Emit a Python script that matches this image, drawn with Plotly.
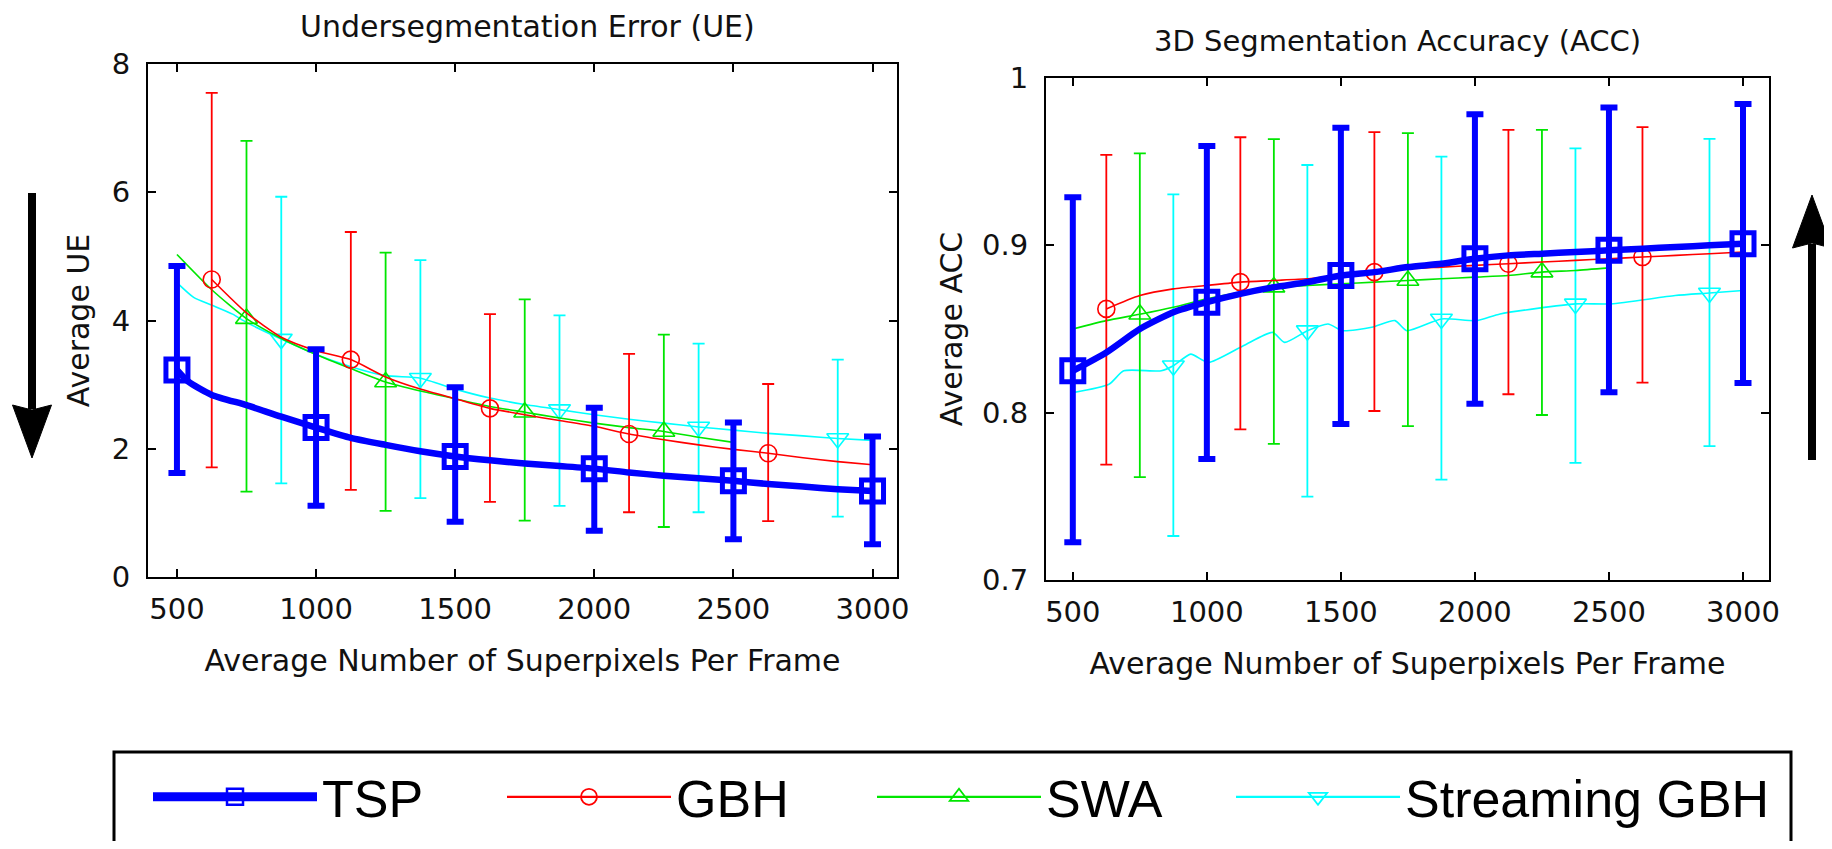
import plotly.graph_objects as go

# ---------------- data ----------------
X_TICKS = [500, 1000, 1500, 2000, 2500, 3000]
UE_TICKS = [0, 2, 4, 6, 8]
ACC_TICKS = [0.7, 0.8, 0.9, 1.0]
ACC_TICK_TEXT = ["0.7", "0.8", "0.9", "1"]

METHODS = ["TSP", "GBH", "SWA", "Streaming GBH"]

# --- Undersegmentation error: curves
ue_tsp_x = [500, 540, 625, 750, 875, 1000, 1125, 1250, 1375, 1500, 1625, 1750, 1875, 2000, 2125, 2250, 2375, 2500, 2625, 2750, 2875, 3000]
ue_tsp_y = [3.23, 3.05, 2.84, 2.68, 2.50, 2.33, 2.17, 2.06, 1.96, 1.88, 1.82, 1.77, 1.73, 1.69, 1.63, 1.58, 1.54, 1.50, 1.45, 1.41, 1.37, 1.34]
ue_gbh_x = [625, 750, 875, 1000, 1125, 1250, 1375, 1500, 1625, 1750, 1875, 2000, 2125, 2250, 2375, 2500, 2625, 2750, 2875, 3000]
ue_gbh_y = [4.64, 4.12, 3.74, 3.53, 3.39, 3.12, 2.93, 2.78, 2.63, 2.53, 2.44, 2.35, 2.23, 2.14, 2.06, 1.99, 1.93, 1.86, 1.80, 1.75]
ue_swa_x = [500, 625, 750, 875, 1000, 1125, 1250, 1375, 1500, 1625, 1750, 1875, 2000, 2125, 2250, 2375, 2500]
ue_swa_y = [5.03, 4.48, 4.03, 3.72, 3.47, 3.25, 3.04, 2.90, 2.78, 2.66, 2.57, 2.48, 2.40, 2.33, 2.27, 2.18, 2.10]
ue_sgbh_x = [500, 560, 625, 700, 750, 875, 1000, 1125, 1250, 1375, 1500, 1625, 1750, 1875, 2000, 2125, 2250, 2375, 2500, 2625, 2750, 2875, 3000]
ue_sgbh_y = [4.59, 4.36, 4.24, 4.10, 3.97, 3.71, 3.47, 3.28, 3.14, 3.10, 2.93, 2.79, 2.69, 2.61, 2.53, 2.46, 2.40, 2.34, 2.29, 2.24, 2.20, 2.16, 2.13]

# --- Undersegmentation error: markers with error bars (mean, upper, lower)
ue_tsp_mx = [500, 1000, 1500, 2000, 2500, 3000]
ue_tsp_my = [3.23, 2.33, 1.88, 1.69, 1.50, 1.34]
ue_tsp_hi = [4.85, 3.55, 2.96, 2.64, 2.41, 2.19]
ue_tsp_lo = [1.62, 1.11, 0.86, 0.72, 0.59, 0.51]
ue_gbh_mx = [625, 1125, 1625, 2125, 2625]
ue_gbh_my = [4.64, 3.39, 2.63, 2.23, 1.93]
ue_gbh_hi = [7.55, 5.38, 4.10, 3.48, 3.01]
ue_gbh_lo = [1.71, 1.36, 1.17, 1.01, 0.87]
ue_swa_mx = [750, 1250, 1750, 2250]
ue_swa_my = [4.03, 3.04, 2.57, 2.27]
ue_swa_hi = [6.80, 5.06, 4.33, 3.78]
ue_swa_lo = [1.33, 1.03, 0.88, 0.78]
ue_sgbh_mx = [875, 1375, 1875, 2375, 2875]
ue_sgbh_my = [3.71, 3.10, 2.61, 2.34, 2.16]
ue_sgbh_hi = [5.93, 4.94, 4.08, 3.64, 3.39]
ue_sgbh_lo = [1.46, 1.23, 1.11, 1.01, 0.94]

# --- 3D segmentation accuracy: curves
acc_tsp_x = [500, 625, 750, 875, 1000, 1125, 1250, 1375, 1500, 1625, 1750, 1875, 2000, 2125, 2250, 2375, 2500, 2625, 2750, 2875, 3000]
acc_tsp_y = [0.825, 0.836, 0.850, 0.860, 0.866, 0.871, 0.875, 0.878, 0.882, 0.884, 0.887, 0.889, 0.892, 0.894, 0.895, 0.896, 0.897, 0.898, 0.899, 0.900, 0.901]
acc_gbh_x = [625, 750, 875, 1000, 1125, 1250, 1375, 1500, 1625, 1750, 1875, 2000, 2125, 2250, 2375, 2500, 2625, 2750, 2875, 3000]
acc_gbh_y = [0.862, 0.870, 0.874, 0.876, 0.878, 0.879, 0.880, 0.882, 0.884, 0.886, 0.887, 0.888, 0.889, 0.890, 0.891, 0.892, 0.893, 0.894, 0.895, 0.896]
acc_swa_x = [500, 625, 750, 875, 1000, 1125, 1250, 1375, 1500, 1625, 1750, 1875, 2000, 2125, 2250, 2375, 2500]
acc_swa_y = [0.850, 0.855, 0.8588, 0.863, 0.868, 0.872, 0.875, 0.876, 0.877, 0.878, 0.879, 0.880, 0.881, 0.882, 0.884, 0.885, 0.8865]
acc_sgbh_x = [500, 635, 690, 830, 875, 940, 1005, 1136, 1245, 1290, 1375, 1452, 1506, 1615, 1702, 1746, 1875, 2007, 2094, 2375, 2508, 2747, 2875, 3000]
acc_sgbh_y = [0.812, 0.817, 0.825, 0.825, 0.828, 0.835, 0.830, 0.840, 0.848, 0.842, 0.849, 0.853, 0.849, 0.851, 0.855, 0.849, 0.856, 0.855, 0.859, 0.865, 0.865, 0.870, 0.8715, 0.873]

# --- 3D segmentation accuracy: markers with error bars
acc_tsp_mx = [500, 1000, 1500, 2000, 2500, 3000]
acc_tsp_my = [0.825, 0.866, 0.882, 0.892, 0.897, 0.901]
acc_tsp_hi = [0.9287, 0.9594, 0.9703, 0.9783, 0.9824, 0.9845]
acc_tsp_lo = [0.7225, 0.7723, 0.7932, 0.8053, 0.8122, 0.8177]
acc_gbh_mx = [625, 1125, 1625, 2125, 2625]
acc_gbh_my = [0.862, 0.878, 0.884, 0.889, 0.893]
acc_gbh_hi = [0.954, 0.9646, 0.9676, 0.969, 0.9706]
acc_gbh_lo = [0.769, 0.790, 0.801, 0.811, 0.818]
acc_swa_mx = [750, 1250, 1750, 2250]
acc_swa_my = [0.8588, 0.875, 0.879, 0.884]
acc_swa_hi = [0.9550, 0.9635, 0.967, 0.969]
acc_swa_lo = [0.7615, 0.7813, 0.792, 0.7986]
acc_sgbh_mx = [875, 1375, 1875, 2375, 2875]
acc_sgbh_my = [0.828, 0.849, 0.856, 0.865, 0.8715]
acc_sgbh_hi = [0.9305, 0.948, 0.953, 0.958, 0.9636]
acc_sgbh_lo = [0.7263, 0.7498, 0.760, 0.770, 0.780]

# ---------------- styling ----------------
PAGE_W, PAGE_H = 1832, 849
BODY = 8                      # default page margin around the plot div
W, H = PAGE_W - 2 * BODY, PAGE_H - 2 * BODY
FONT = "DejaVu Sans"
LEG_FONT = "Liberation Sans"
TXT = "#111111"

STYLE = {
    "TSP":           dict(color="rgb(0,0,255)",   lw=6.5, symbol="square-open",        size=22, mlw=5,   ethick=6, ewidth=8.5),
    "GBH":           dict(color="rgb(255,0,0)",   lw=1.6, symbol="circle-open",        size=17, mlw=1.6, ethick=1.8, ewidth=6),
    "SWA":           dict(color="rgb(0,230,0)",   lw=1.6, symbol="triangle-up-open",   size=19, mlw=1.6, ethick=1.8, ewidth=6),
    "Streaming GBH": dict(color="rgb(0,255,255)", lw=1.6, symbol="triangle-down-open", size=19, mlw=1.6, ethick=1.8, ewidth=6),
}
# one legend box per entry, placed at the reference's page positions
LEGEND_X = {"TSP": 148, "GBH": 502, "SWA": 872, "Streaming GBH": 1231}
LEGEND_ID = {"TSP": "legend", "GBH": "legend2", "SWA": "legend3", "Streaming GBH": "legend4"}


def px_x(p):
    """page pixel -> paper fraction"""
    return (p - BODY) / W


def px_y(p):
    return 1 - (p - BODY) / H


# plot boxes in page pixels (left, right, top, bottom)
L_BOX = (148, 897, 64, 577)
R_BOX = (1046, 1769, 78, 580)

fig = go.Figure()

# legend-only entries
for name in METHODS:
    s = STYLE[name]
    fig.add_trace(go.Scatter(
        x=[None], y=[None], name=name, mode="lines+markers",
        line=dict(color=s["color"], width=9 if name == "TSP" else 2.2),
        marker=dict(symbol=s["symbol"], size=s["size"] + 5, color=s["color"],
                    line=dict(color=s["color"], width=2.5 if name == "TSP" else 1.8)),
        xaxis="x", yaxis="y", showlegend=True, legend=LEGEND_ID[name], hoverinfo="skip"))

panels = {
    ("x", "y"): {
        "TSP": (ue_tsp_x, ue_tsp_y, ue_tsp_mx, ue_tsp_my, ue_tsp_hi, ue_tsp_lo),
        "GBH": (ue_gbh_x, ue_gbh_y, ue_gbh_mx, ue_gbh_my, ue_gbh_hi, ue_gbh_lo),
        "SWA": (ue_swa_x, ue_swa_y, ue_swa_mx, ue_swa_my, ue_swa_hi, ue_swa_lo),
        "Streaming GBH": (ue_sgbh_x, ue_sgbh_y, ue_sgbh_mx, ue_sgbh_my, ue_sgbh_hi, ue_sgbh_lo),
    },
    ("x2", "y2"): {
        "TSP": (acc_tsp_x, acc_tsp_y, acc_tsp_mx, acc_tsp_my, acc_tsp_hi, acc_tsp_lo),
        "GBH": (acc_gbh_x, acc_gbh_y, acc_gbh_mx, acc_gbh_my, acc_gbh_hi, acc_gbh_lo),
        "SWA": (acc_swa_x, acc_swa_y, acc_swa_mx, acc_swa_my, acc_swa_hi, acc_swa_lo),
        "Streaming GBH": (acc_sgbh_x, acc_sgbh_y, acc_sgbh_mx, acc_sgbh_my, acc_sgbh_hi, acc_sgbh_lo),
    },
}

draw_order = ["Streaming GBH", "SWA", "GBH", "TSP"]
for (xa, ya), series in panels.items():
    for name in draw_order:
        lx, ly, mx, my, hi, lo = series[name]
        s = STYLE[name]
        fig.add_trace(go.Scatter(
            x=mx, y=my, mode="markers", name=name, showlegend=False,
            marker=dict(symbol=s["symbol"], size=s["size"], color=s["color"],
                        line=dict(color=s["color"], width=s["mlw"])),
            error_y=dict(type="data", symmetric=False,
                         array=[h - m for h, m in zip(hi, my)],
                         arrayminus=[m - l for m, l in zip(my, lo)],
                         color=s["color"], thickness=s["ethick"], width=s["ewidth"]),
            xaxis=xa, yaxis=ya, hoverinfo="skip"))
        fig.add_trace(go.Scatter(
            x=lx, y=ly, mode="lines", name=name, showlegend=False,
            line=dict(color=s["color"], width=s["lw"], shape="spline", smoothing=0.6),
            xaxis=xa, yaxis=ya, hoverinfo="skip"))

axis_common = dict(
    showline=True, linecolor="black", linewidth=2, mirror="ticks",
    ticks="inside", ticklen=8, tickwidth=1.5, tickcolor="black",
    showgrid=False, zeroline=False, automargin=False,
    tickfont=dict(family=FONT, size=29, color=TXT),
    title_font=dict(family=FONT, size=30, color=TXT),
)

legend_common = dict(
    orientation="h", xanchor="left", y=px_y(797), yanchor="middle",
    font=dict(family=LEG_FONT, size=52, color="black"),
    itemwidth=164, itemsizing="trace", bgcolor="rgba(0,0,0,0)", borderwidth=0,
)

fig.update_layout(
    template="none",
    width=W, height=H, autosize=False,
    margin=dict(l=0, r=0, t=0, b=0, pad=0),
    paper_bgcolor="white", plot_bgcolor="white",
    font=dict(family=FONT, color=TXT),
    xaxis=dict(domain=[px_x(L_BOX[0]), px_x(L_BOX[1])], range=[396, 3088],
               tickvals=X_TICKS, anchor="y", ticklabelstandoff=5,
               title=dict(text="Average Number of Superpixels Per Frame", standoff=25), **axis_common),
    yaxis=dict(domain=[px_y(L_BOX[3]), px_y(L_BOX[2])], range=[0, 8],
               tickvals=UE_TICKS, anchor="x", ticklabelstandoff=10,
               title=dict(text="Average UE", standoff=13), **axis_common),
    xaxis2=dict(domain=[px_x(R_BOX[0]), px_x(R_BOX[1])], range=[400, 3097],
                tickvals=X_TICKS, anchor="y2", ticklabelstandoff=5,
                title=dict(text="Average Number of Superpixels Per Frame", standoff=25), **axis_common),
    yaxis2=dict(domain=[px_y(R_BOX[3]), px_y(R_BOX[2])], range=[0.7, 1.0],
                tickvals=ACC_TICKS, ticktext=ACC_TICK_TEXT, anchor="x2", ticklabelstandoff=10,
                title=dict(text="Average ACC", standoff=11), **axis_common),
    showlegend=True,
    legend=dict(x=px_x(LEGEND_X["TSP"]), **legend_common),
    legend2=dict(x=px_x(LEGEND_X["GBH"]), **legend_common),
    legend3=dict(x=px_x(LEGEND_X["SWA"]), **legend_common),
    legend4=dict(x=px_x(LEGEND_X["Streaming GBH"]), **legend_common),
)

# subplot titles
fig.add_annotation(text="Undersegmentation Error (UE)", x=px_x(527), y=px_y(27),
                   xref="paper", yref="paper", showarrow=False, xanchor="center", yanchor="middle",
                   font=dict(family=FONT, size=30, color=TXT))
fig.add_annotation(text="3D Segmentation Accuracy (ACC)", x=px_x(1397), y=px_y(41),
                   xref="paper", yref="paper", showarrow=False, xanchor="center", yanchor="middle",
                   font=dict(family=FONT, size=29, color=TXT))


# direction arrows (down = lower is better, up = higher is better)
def arrow(xc, y_tail, y_tip, head_len=53, head_half=19.5, shaft=8):
    d = 1 if y_tip > y_tail else -1
    y_base = y_tip - d * head_len
    fig.add_shape(type="line", xref="paper", yref="paper",
                  x0=px_x(xc), x1=px_x(xc), y0=px_y(y_tail), y1=px_y(y_base + d * 4),
                  line=dict(color="black", width=shaft))
    path = (f"M {px_x(xc - head_half)},{px_y(y_base)} "
            f"L {px_x(xc)},{px_y(y_base + d * 5)} "
            f"L {px_x(xc + head_half)},{px_y(y_base)} "
            f"L {px_x(xc)},{px_y(y_tip)} Z")
    fig.add_shape(type="path", xref="paper", yref="paper", path=path,
                  fillcolor="black", line=dict(color="black", width=1))


arrow(32, 193, 458)
arrow(1812, 460, 195)

# legend frame
fig.add_shape(type="rect", xref="paper", yref="paper",
              x0=px_x(114), x1=px_x(1791), y0=-0.2, y1=px_y(752),
              line=dict(color="black", width=3), fillcolor="rgba(0,0,0,0)", layer="above")

fig.write_html("out.html")
